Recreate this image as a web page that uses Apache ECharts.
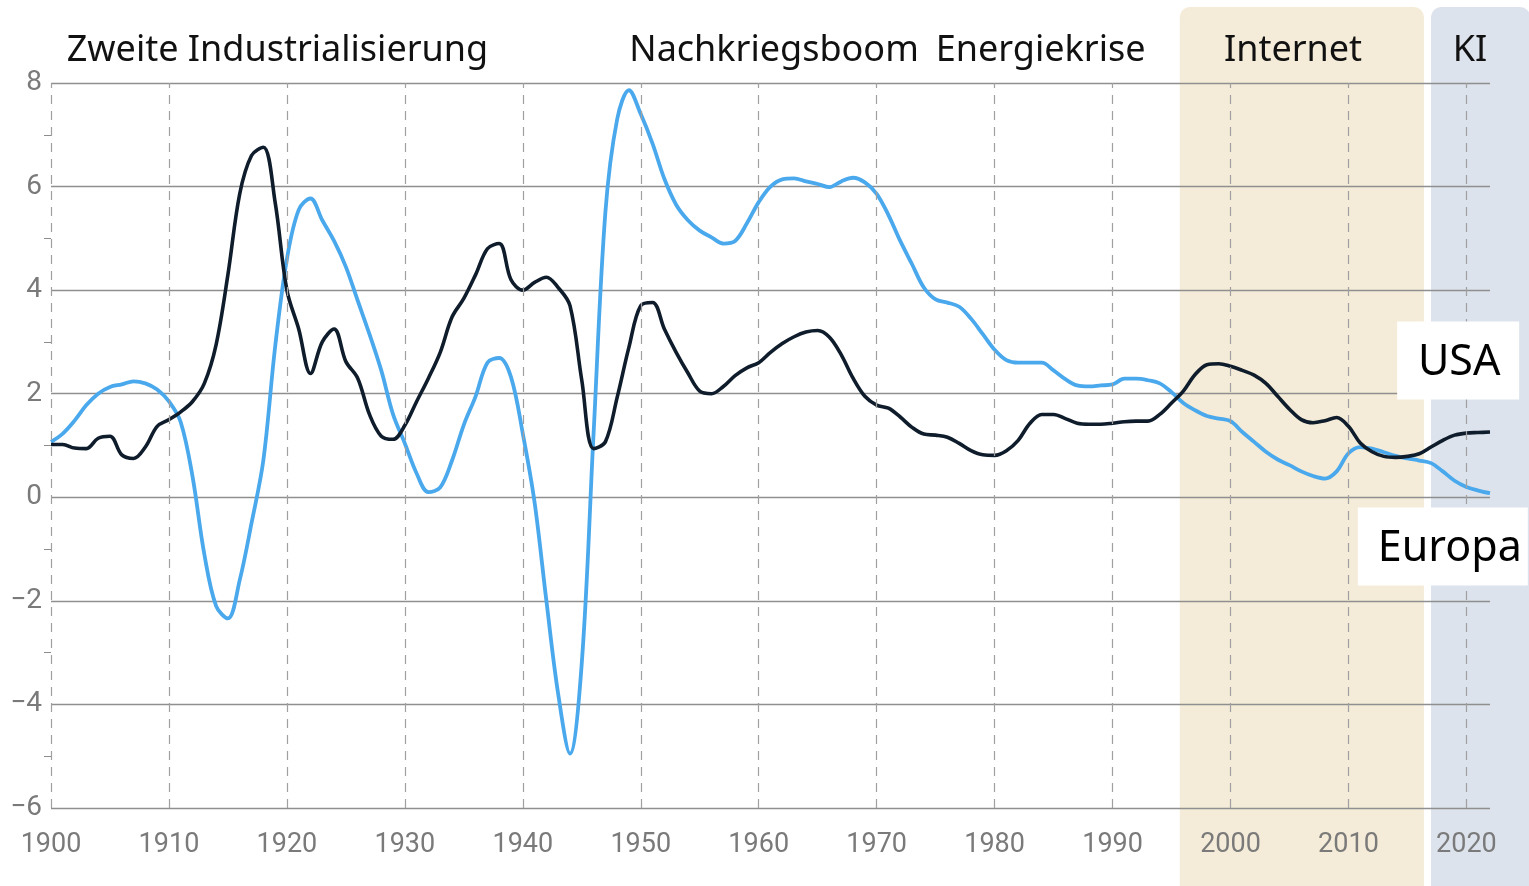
<!DOCTYPE html>
<html>
<head>
<meta charset="utf-8">
<title>Produktivitätswachstum USA und Europa</title>
<script src="https://cdn.jsdelivr.net/npm/echarts@6/dist/echarts.min.js"></script>
<style>
  html, body { margin: 0; padding: 0; background: #fff; }
  #main { width: 1529px; height: 886px; }
</style>
</head>
<body>
<div id="main"></div>
<script>
// jaehrliche Werte ab 1900
const startYear = 1900
const usa = [
  1.02, 1.02, 0.95, 0.94, 1.14, 1.18, 0.82, 0.75, 0.97, 1.37,
  1.50, 1.65, 1.85, 2.20, 2.95, 4.30, 5.86, 6.60, 6.76, 5.70,
  4.00, 3.25, 2.39, 3.00, 3.25, 2.62, 2.30, 1.60, 1.18, 1.12,
  1.39, 1.85, 2.30, 2.80, 3.48, 3.84, 4.30, 4.80, 4.90, 4.20,
  4.00, 4.15, 4.25, 4.05, 3.70, 2.26, 0.94, 1.07, 1.93, 2.90,
  3.70, 3.76, 3.25, 2.80, 2.40, 2.05, 2.00, 2.14, 2.35, 2.50,
  2.60, 2.80, 2.97, 3.10, 3.19, 3.22, 3.09, 2.75, 2.30, 1.95,
  1.78, 1.72, 1.55, 1.35, 1.22, 1.20, 1.16, 1.04, 0.90, 0.82,
  0.81, 0.90, 1.10, 1.43, 1.60, 1.60, 1.52, 1.43, 1.41, 1.41,
  1.43, 1.46, 1.47, 1.47, 1.60, 1.82, 2.05, 2.37, 2.56, 2.58,
  2.53, 2.45, 2.36, 2.20, 1.95, 1.70, 1.50, 1.44, 1.48, 1.54,
  1.37, 1.05, 0.88, 0.79, 0.77, 0.79, 0.84, 0.97, 1.10, 1.20,
  1.24, 1.25, 1.26
]
const europa = [
  1.07, 1.23, 1.48, 1.78, 2.00, 2.13, 2.18, 2.24, 2.20, 2.08,
  1.85, 1.45, 0.40, -1.10, -2.10, -2.34, -1.60, -0.50, 0.71, 2.90,
  4.60, 5.55, 5.77, 5.35, 4.95, 4.45, 3.80, 3.15, 2.45, 1.60,
  1.04, 0.46, 0.10, 0.19, 0.71, 1.40, 1.95, 2.60, 2.69, 2.32,
  1.23, -0.10, -2.00, -3.80, -4.95, -3.20, 1.23, 5.50, 7.30, 7.86,
  7.40, 6.83, 6.15, 5.65, 5.35, 5.15, 5.02, 4.90, 4.95, 5.29,
  5.70, 6.00, 6.14, 6.16, 6.10, 6.05, 5.99, 6.10, 6.17, 6.08,
  5.86, 5.45, 4.95, 4.50, 4.05, 3.82, 3.76, 3.68, 3.45, 3.15,
  2.85, 2.65, 2.60, 2.60, 2.60, 2.45, 2.28, 2.16, 2.14, 2.16,
  2.18, 2.29, 2.29, 2.26, 2.20, 2.03, 1.82, 1.68, 1.57, 1.52,
  1.47, 1.26, 1.07, 0.88, 0.73, 0.62, 0.50, 0.41, 0.36, 0.50,
  0.85, 0.97, 0.94, 0.87, 0.80, 0.75, 0.71, 0.66, 0.50, 0.32,
  0.20, 0.13, 0.08
]
const decades = [1900, 1910, 1920, 1930, 1940, 1950, 1960, 1970, 1980, 1990, 2000, 2010, 2020]
const eraLabels = ['Zweite Industrialisierung', 'Nachkriegsboom', 'Energiekrise', 'Internet', 'KI']
const eraCenters = [1919.2, 1961.3, 1983.9, 2005.3, 2020.3]
const bandStarts = [1995.7, 2017.0]
const bandEnds = [2016.4, 2025.4]
const bandColors = ['#f4ecd8', '#dce3ec']
const seriesNames = ['USA', 'Europa']
const nameBoxCenters = [[2019.3, 2.64], [2018.0, -0.95]]
const nameBoxSizes = [[122, 78], [170, 78]]

const toPairs = (vals) => vals.map((v, i) => [startYear + i, v])

const chart = echarts.init(document.getElementById('main'))

chart.setOption({
  animation: false,
  backgroundColor: '#fff',
  grid: {
    left: 51,
    right: 39,
    top: 83,
    bottom: 78
  },
  xAxis: {
    type: 'value',
    min: 1900,
    max: 2022,
    interval: 10,
    axisLine: { show: false },
    axisTick: { show: false },
    splitLine: { show: false },
    axisLabel: {
      showMaxLabel: false,
      margin: 24,
      color: '#7a7a7a',
      fontSize: 27,
      fontFamily: 'Roboto, sans-serif',
      formatter: (v) => (v % 10 === 0 ? String(v) : '')
    }
  },
  yAxis: {
    type: 'value',
    min: -6,
    max: 8,
    interval: 2,
    axisLine: { show: false },
    axisTick: { show: false },
    minorTick: {
      show: true,
      splitNumber: 2,
      length: 7,
      lineStyle: { color: '#8c8c8c', width: 1 }
    },
    splitLine: {
      lineStyle: { color: '#8f8f8f', width: 1.3 }
    },
    axisLabel: {
      margin: 9,
      color: '#7a7a7a',
      fontSize: 28,
      fontFamily: 'Roboto, sans-serif',
      formatter: (v) => String(v).replace('-', '\u2212')
    }
  },
  series: [
    {
      // gestrichelte Jahrzehnt-Linien
      type: 'line',
      data: [],
      z: 1,
      silent: true,
      markLine: {
        silent: true,
        symbol: ['none', 'none'],
        label: { show: false },
        lineStyle: { type: [9, 7], color: '#a0a0a0', width: 1.2 },
        data: decades.map(d => ({ xAxis: d }))
      }
    },
    {
      name: 'Europa',
      type: 'line',
      data: toPairs(europa),
      smooth: 0.35,
      showSymbol: false,
      lineStyle: { color: '#4aa8ec', width: 3.8 },
      itemStyle: { color: '#4aa8ec' }
    },
    {
      name: 'USA',
      type: 'line',
      data: toPairs(usa),
      smooth: 0.35,
      showSymbol: false,
      lineStyle: { color: '#0f1c2b', width: 3.6 },
      itemStyle: { color: '#0f1c2b' }
    }
  ]
})

// Hintergrund-Baender, Epochen-Titel und Namensschilder
const px = (x, y) => chart.convertToPixel({ gridIndex: 0 }, [x, y])
const elements = []
bandStarts.forEach((s, i) => {
  const a = px(s, 8)
  const b = px(bandEnds[i], 8)
  elements.push({
    type: 'rect',
    z: -10,
    silent: true,
    shape: { x: a[0], y: 7, width: b[0] - a[0], height: 900, r: 10 },
    style: { fill: bandColors[i] }
  })
})
eraLabels.forEach((t, i) => {
  const p = px(eraCenters[i], 8)
  elements.push({
    type: 'text',
    z: 50,
    silent: true,
    style: {
      text: t,
      x: p[0],
      y: 51,
      fill: '#111',
      font: '36px "Noto Sans", sans-serif',
      textAlign: 'center',
      textVerticalAlign: 'middle'
    }
  })
})
seriesNames.forEach((t, i) => {
  const c = px(nameBoxCenters[i][0], nameBoxCenters[i][1])
  const w = nameBoxSizes[i][0]
  const h = nameBoxSizes[i][1]
  elements.push({
    type: 'rect',
    z: 60,
    silent: true,
    shape: { x: c[0] - w / 2, y: c[1] - h / 2, width: w, height: h },
    style: { fill: '#fff' }
  })
  elements.push({
    type: 'text',
    z: 61,
    silent: true,
    style: {
      text: t,
      x: c[0] + (i === 0 ? 1 : 7),
      y: c[1] + 2,
      fill: '#000',
      font: '43px "Noto Sans", sans-serif',
      textAlign: 'center',
      textVerticalAlign: 'middle'
    }
  })
})
chart.setOption({ graphic: { elements: elements } })
</script>
</body>
</html>
